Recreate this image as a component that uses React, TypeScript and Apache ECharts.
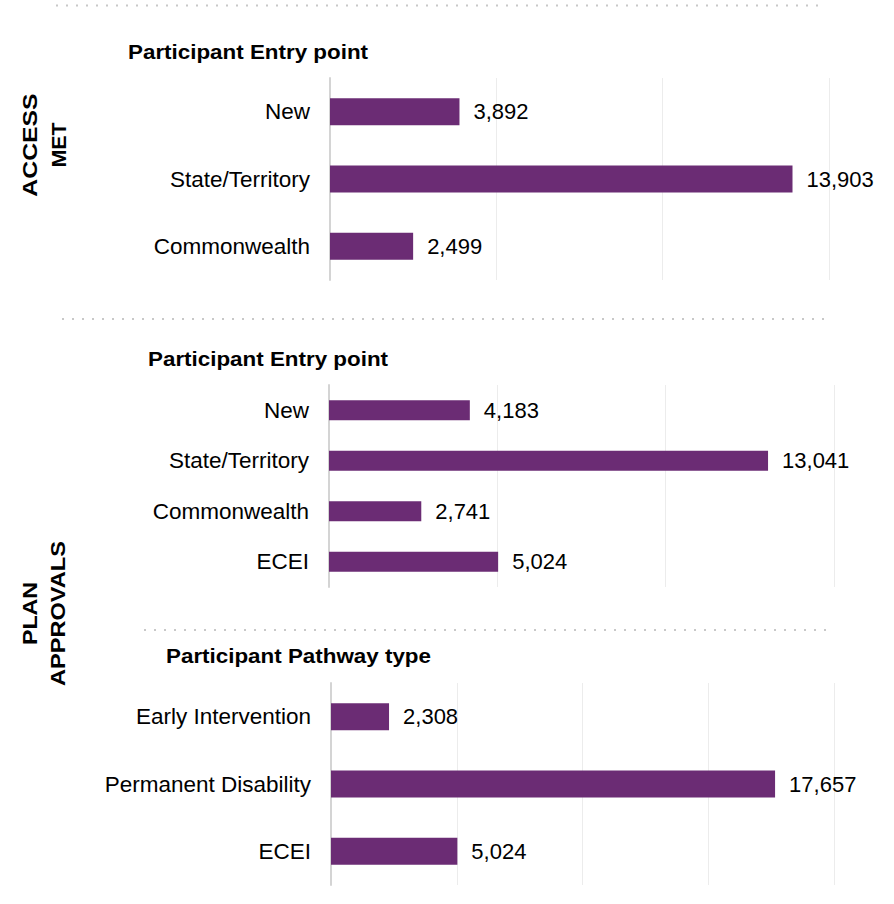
import React, { useEffect, useRef } from "react";
import * as echarts from "echarts";

// ---- Data ----
const entryCategoriesAccess = ["New", "State/Territory", "Commonwealth"];
const accessMetValues = [3892, 13903, 2499];

const entryCategoriesPlan = ["New", "State/Territory", "Commonwealth", "ECEI"];
const planEntryValues = [4183, 13041, 2741, 5024];

const pathwayCategories = ["Early Intervention", "Permanent Disability", "ECEI"];
const planPathwayValues = [2308, 17657, 5024];

const sectionTitles = ["Participant Entry point", "Participant Entry point", "Participant Pathway type"];
const axisMax = [15000, 15000, 20000];
const axisInterval = 5000;

const FONT = '"Liberation Sans", Arial, Helvetica, sans-serif';
const BAR_COLOR = "#6b2c74";

export default function App() {
  const ref = useRef<HTMLDivElement>(null);

  useEffect(() => {
    document.body.style.margin = "0";
    if (!ref.current) return;
    const chart = echarts.init(ref.current, undefined, { renderer: "svg" });

    const grids = [
      { left: 330, top: 78, width: 499, height: 202 },
      { left: 329, top: 385, width: 505, height: 202 },
      { left: 331, top: 683, width: 503, height: 202 },
    ];
    const cats = [entryCategoriesAccess, entryCategoriesPlan, pathwayCategories];
    const vals = [accessMetValues, planEntryValues, planPathwayValues];
    const barWidths = [27, 20, 27];

    const boldText = (text: string, x: number, y: number, scaleX: number, rotation = 0, align = "left") => ({
      type: "text",
      x,
      y,
      rotation,
      scaleX,
      silent: true,
      style: {
        text,
        x: 0,
        y: 0,
        font: `bold 20px ${FONT}`,
        fill: "#000",
        align,
        verticalAlign: "middle",
        textAlign: align,
        textVerticalAlign: "middle",
      },
    });

    const dotted = (x1: number, x2: number, y: number) => ({
      type: "line",
      silent: true,
      shape: { x1, y1: y, x2, y2: y },
      style: { stroke: "#c8c8c8", lineWidth: 2, lineDash: [2, 8] },
    });

    const option: any = {
      animation: false,
      backgroundColor: "#ffffff",
      grid: grids.map((g) => ({ ...g, containLabel: false })),
      xAxis: grids.map((_, i) => ({
        type: "value",
        gridIndex: i,
        min: 0,
        max: axisMax[i],
        interval: axisInterval,
        axisLabel: { show: false },
        axisLine: { show: false },
        axisTick: { show: false },
        splitLine: { show: true, lineStyle: { color: "#ececec", width: 1 } },
      })),
      yAxis: grids.map((_, i) => ({
        type: "category",
        gridIndex: i,
        inverse: true,
        data: cats[i],
        axisLine: { show: true, lineStyle: { color: "#d4d4d4", width: 2 } },
        axisTick: { show: false },
        axisLabel: { fontSize: 22.5, color: "#000", margin: 20, fontFamily: FONT },
        splitLine: { show: false },
      })),
      series: grids.map((_, i) => ({
        type: "bar",
        xAxisIndex: i,
        yAxisIndex: i,
        data: vals[i],
        barWidth: barWidths[i],
        itemStyle: { color: BAR_COLOR },
        label: {
          show: true,
          position: "right",
          distance: 14,
          fontSize: 22,
          color: "#000",
          fontFamily: FONT,
          formatter: (p: any) => Number(p.value).toLocaleString("en-US"),
        },
      })),
      graphic: [
        dotted(56, 824, 5.5),
        dotted(62, 829, 319),
        dotted(144, 831, 630),
        boldText(sectionTitles[0], 128, 52, 1.12),
        boldText(sectionTitles[1], 148, 359, 1.12),
        boldText(sectionTitles[2], 166, 656, 1.12),
        boldText("ACCESS", 30, 145, 1.24, Math.PI / 2, "center"),
        boldText("MET", 59, 145, 1.07, Math.PI / 2, "center"),
        boldText("PLAN", 30, 613.5, 1.16, Math.PI / 2, "center"),
        boldText("APPROVALS", 58, 613.5, 1.18, Math.PI / 2, "center"),
      ],
    };

    chart.setOption(option);
    return () => chart.dispose();
  }, []);

  return <div ref={ref} style={{ width: 894, height: 904 }} />;
}
